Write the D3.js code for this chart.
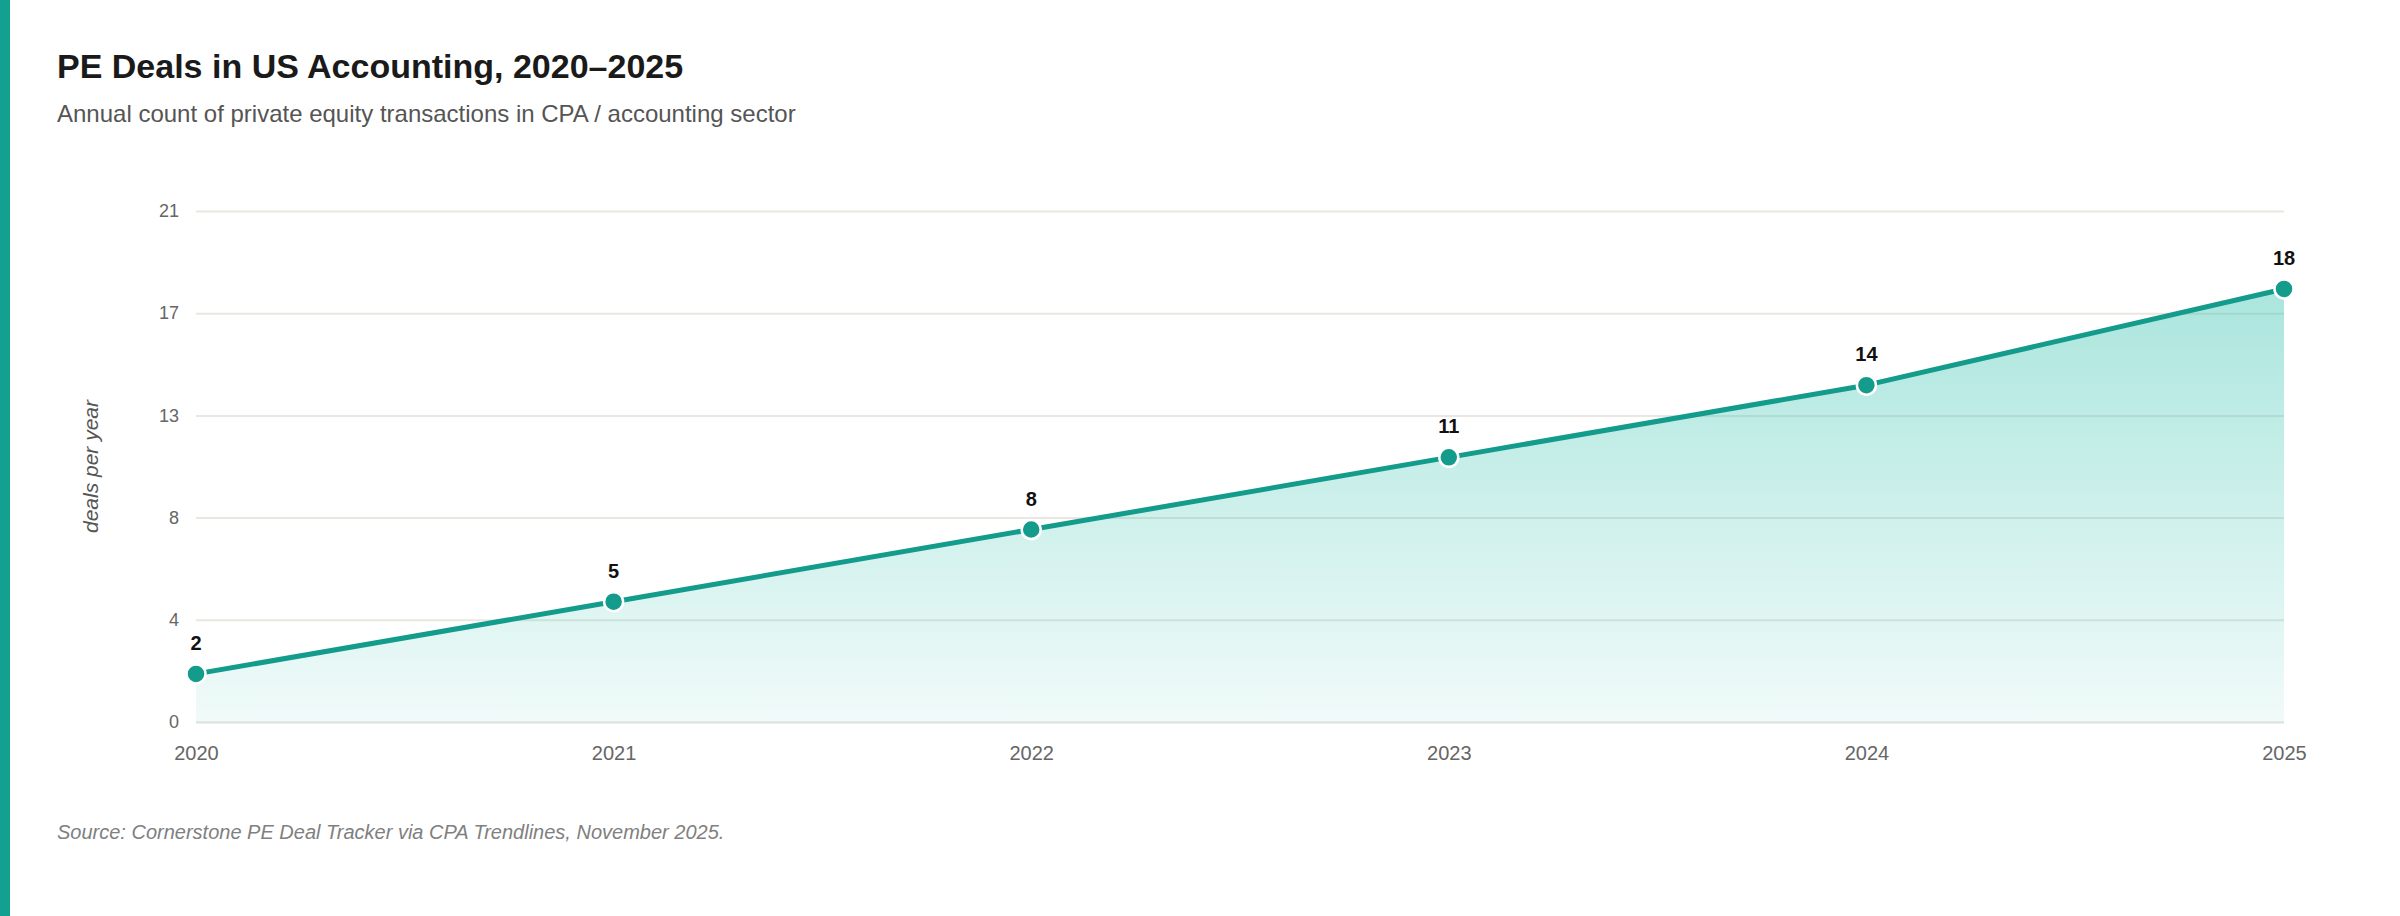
<!DOCTYPE html>
<html>
<head>
<meta charset="utf-8">
<script src="https://cdn.jsdelivr.net/npm/d3@7"></script>
<style>
  html, body { margin: 0; padding: 0; background: #fff; }
  svg { display: block; font-family: "Helvetica Neue", Helvetica, Arial, "Liberation Sans", sans-serif; }
</style>
</head>
<body>
<svg id="chart" width="2400" height="916"></svg>
<script>
// ---- data ----
const years = ["2020", "2021", "2022", "2023", "2024", "2025"];
const deals = [2, 5, 8, 11, 14, 18];
const yTickLabels = ["0", "4", "8", "13", "17", "21"];
const headroom = 1.18;

const title = "PE Deals in US Accounting, 2020\u20132025";
const subtitle = "Annual count of private equity transactions in CPA / accounting sector";
const yTitle = "deals per year";
const source = "Source: Cornerstone PE Deal Tracker via CPA Trendlines, November 2025.";

// ---- layout ----
const W = 2400, H = 916;
const plot = { left: 196, right: 2284, top: 211, bottom: 722 };
const teal = "#139b8b";

const svg = d3.select("#chart");

svg.append("rect").attr("x", 0).attr("y", 0).attr("width", 10).attr("height", H).attr("fill", "#14a090");

svg.append("text").attr("x", 57).attr("y", 78).attr("font-size", 34).attr("font-weight", 700)
  .attr("fill", "#1a1a1a").text(title);
svg.append("text").attr("x", 57).attr("y", 122).attr("font-size", 24)
  .attr("fill", "#555").text(subtitle);
svg.append("text").attr("x", 57).attr("y", 839).attr("font-size", 20).attr("font-style", "italic")
  .attr("fill", "#808080").text(source);

const x = d3.scalePoint().domain(years).range([plot.left, plot.right]);
const yMax = d3.max(deals) * headroom;
const y = d3.scaleLinear().domain([0, yMax]).range([plot.bottom, plot.top]);
const tickVals = yTickLabels.map((_, i) => yMax * i / (yTickLabels.length - 1));

// gradient
const defs = svg.append("defs");
const grad = defs.append("linearGradient").attr("id", "areaGrad")
  .attr("x1", 0).attr("y1", 0).attr("x2", 0).attr("y2", 1);
grad.append("stop").attr("offset", "0%").attr("stop-color", "#2bbfab").attr("stop-opacity", 0.4);
grad.append("stop").attr("offset", "100%").attr("stop-color", "#2bbfab").attr("stop-opacity", 0.07);

// y axis + grid
const yAxis = d3.axisLeft(y).tickValues(tickVals).tickFormat((d, i) => yTickLabels[i])
  .tickSizeInner(-(plot.right - plot.left)).tickSizeOuter(0).tickPadding(17);
const gy = svg.append("g").attr("transform", `translate(${plot.left},0)`).call(yAxis);
gy.select(".domain").remove();
gy.selectAll(".tick line").attr("stroke", (d, i) => i === 0 ? "#e0e0e0" : "#e9e7e0").attr("stroke-width", 2);
gy.selectAll(".tick text").attr("font-size", 18).attr("fill", "#666").attr("font-family", null);

// x axis
const xAxis = d3.axisBottom(x).tickSize(0).tickPadding(24);
const gx = svg.append("g").attr("transform", `translate(0,${plot.bottom})`).call(xAxis);
gx.select(".domain").remove();
gx.selectAll(".tick text").attr("font-size", 20).attr("fill", "#666").attr("font-family", null);

// y title
svg.append("text").attr("transform", `translate(98,${(plot.top + plot.bottom) / 2}) rotate(-90)`)
  .attr("text-anchor", "middle").attr("font-size", 21).attr("font-style", "italic")
  .attr("fill", "#555").text(yTitle);

const pts = years.map((yr, i) => ({ yr, v: deals[i] }));

// area
const area = d3.area().x(d => x(d.yr)).y0(y(0)).y1(d => y(d.v));
svg.append("path").datum(pts).attr("d", area).attr("fill", "url(#areaGrad)");

// line
const line = d3.line().x(d => x(d.yr)).y(d => y(d.v));
svg.append("path").datum(pts).attr("d", line).attr("fill", "none")
  .attr("stroke", teal).attr("stroke-width", 5).attr("stroke-linejoin", "round");

// points
svg.append("g").selectAll("circle").data(pts).join("circle")
  .attr("cx", d => x(d.yr)).attr("cy", d => y(d.v)).attr("r", 9.5)
  .attr("fill", teal).attr("stroke", "#fff").attr("stroke-width", 2.5);

// labels
svg.append("g").selectAll("text").data(pts).join("text")
  .attr("x", d => x(d.yr)).attr("y", d => y(d.v) - 24)
  .attr("text-anchor", "middle").attr("font-size", 20).attr("font-weight", 700)
  .attr("fill", "#111").text(d => d.v);
</script>
</body>
</html>
